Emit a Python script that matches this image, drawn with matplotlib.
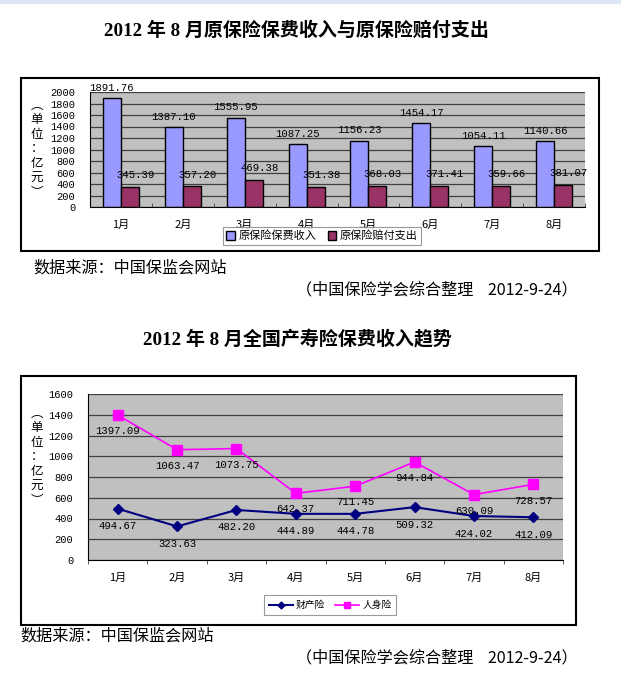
import matplotlib
matplotlib.use("Agg")
import matplotlib.pyplot as plt
import numpy as np
from matplotlib.patches import Rectangle

W, H = 621, 677
CJK = ['Noto Sans CJK SC', 'DejaVu Sans']
SERIF = ['Liberation Serif', 'Noto Sans CJK SC']
MONO = ['Liberation Mono', 'Noto Sans CJK SC']

# data
months = ['1月', '2月', '3月', '4月', '5月', '6月', '7月', '8月']
premium = [1891.76, 1387.10, 1555.95, 1087.25, 1156.23, 1454.17, 1054.11, 1140.66]
claims = [345.39, 357.20, 469.38, 351.38, 368.03, 371.41, 359.66, 381.07]
property_ins = [494.67, 323.63, 482.20, 444.89, 444.78, 509.32, 424.02, 412.09]
life_ins = [1397.09, 1063.47, 1073.75, 642.37, 711.45, 944.84, 630.09, 728.57]

title1 = '2012 年 8 月原保险保费收入与原保险赔付支出'
title2 = '2012 年 8 月全国产寿险保费收入趋势'
source = '数据来源：中国保监会网站'
note = '（中国保险学会综合整理    2012-9-24）'
unit = '︵\n单\n位\n：\n亿\n元\n︶'

fig = plt.figure(figsize=(W / 100, H / 100), dpi=100)


def rect(x0, y0, x1, y1):
    # pixel box (top-left origin) -> figure fraction
    return [x0 / W, 1 - y1 / H, (x1 - x0) / W, (y1 - y0) / H]


def fx(x):
    return x / W


def fy(y):
    return 1 - y / H


# light strip on top
fig.patches.append(Rectangle((0, fy(3)), 1, 3 / H, transform=fig.transFigure,
                             color='#dce6f4', zorder=-5))

# chart frames
for box in [(21, 78, 599, 251), (21, 376, 576, 625)]:
    x0, y0, x1, y1 = box
    fig.patches.append(Rectangle((fx(x0), fy(y1)), fx(x1 - x0), (y1 - y0) / H,
                                 transform=fig.transFigure, facecolor='white',
                                 edgecolor='black', lw=1.5, zorder=-5))

# titles and notes
fig.text(fx(296), fy(31), title1, family=SERIF, weight='bold', fontsize=13.7,
         ha='center', va='center')
fig.text(fx(297), fy(339), title2, family=SERIF, weight='bold', fontsize=13.7,
         ha='center', va='center')
fig.text(fx(33), fy(268), source, family=CJK, fontsize=11.6, ha='left', va='center')
fig.text(fx(578), fy(290), note, family=CJK, fontsize=11.6, ha='right', va='center')
fig.text(fx(20), fy(636), source, family=CJK, fontsize=11.6, ha='left', va='center')
fig.text(fx(578), fy(658), note, family=CJK, fontsize=11.6, ha='right', va='center')


def style_axes(ax, ymax, step):
    ax.set_facecolor('#c0c0c0')
    ax.set_ylim(0, ymax)
    ax.set_xlim(-0.5, len(months) - 0.5)
    ax.set_yticks(np.arange(0, ymax + 1, step))
    ax.yaxis.grid(True, color='#404040', lw=0.9)
    ax.set_axisbelow(True)
    ax.set_xticks(np.arange(len(months)))
    ax.set_xticklabels(months, family=CJK, fontsize=8)
    ax.set_xticks(np.arange(-0.5, len(months)), minor=True)
    ax.tick_params(axis='x', which='major', length=0, pad=9)
    ax.tick_params(axis='y', length=0, pad=10.5, labelsize=7.5)
    for lab in ax.get_yticklabels():
        lab.set_family(MONO)
    for s in ['top', 'right']:
        ax.spines[s].set_visible(False)
    ax.spines['left'].set_color('black')
    ax.spines['bottom'].set_color('black')


# bar chart
ax1 = fig.add_axes(rect(90, 92, 585, 207))
style_axes(ax1, 2000, 200)
ax1.tick_params(axis='x', which='minor', length=3, direction='in', color='#404040')
x = np.arange(len(months))
bw = 0.29
b1 = ax1.bar(x - bw / 2, premium, bw, color='#9999ff', edgecolor='black', lw=1,
             label='原保险保费收入')
b2 = ax1.bar(x + bw / 2, claims, bw, color='#993366', edgecolor='black', lw=1,
             label='原保险赔付支出')
for i in range(len(months)):
    ax1.annotate(f'{premium[i]:.2f}', (x[i] - bw / 2, premium[i]), xytext=(0, 4),
                 textcoords='offset points', ha='center', va='bottom',
                 family=MONO, fontsize=7.7, annotation_clip=False)
    ax1.annotate(f'{claims[i]:.2f}', (x[i] + bw / 2, claims[i]), xytext=(4, 5),
                 textcoords='offset points', ha='center', va='bottom',
                 family=MONO, fontsize=7.7)
leg1 = fig.legend(handles=[b1, b2], loc='center', bbox_to_anchor=(fx(322), fy(236)),
                  ncol=2, frameon=True, fancybox=False, prop={'family': CJK, 'size': 8},
                  handlelength=0.8, handleheight=0.8, handletextpad=0.3,
                  columnspacing=1.0, borderpad=0.3, borderaxespad=0)
leg1.get_frame().set_edgecolor('#808080')
leg1.get_frame().set_linewidth(0.8)
fig.text(fx(37), fy(149), unit, family=CJK, fontsize=9, ha='center', va='center',
         linespacing=1.15)

# line chart
ax2 = fig.add_axes(rect(88, 394, 563, 560))
style_axes(ax2, 1600, 200)
ax2.tick_params(axis='x', which='minor', length=3, direction='out', color='#404040')
l1, = ax2.plot(x, property_ins, color='#000080', lw=1.5, marker='D', ms=5,
               label='财产险')
l2, = ax2.plot(x, life_ins, color='#ff00ff', lw=1.2, marker='s', ms=7,
               label='人身险')
for i in range(len(months)):
    ax2.annotate(f'{property_ins[i]:.2f}', (x[i], property_ins[i]), xytext=(0, -9),
                 textcoords='offset points', ha='center', va='top',
                 family=MONO, fontsize=7.7)
    ax2.annotate(f'{life_ins[i]:.2f}', (x[i], life_ins[i]), xytext=(0, -8),
                 textcoords='offset points', ha='center', va='top',
                 family=MONO, fontsize=7.7)
leg2 = fig.legend(handles=[l1, l2], loc='center', bbox_to_anchor=(fx(330), fy(605)),
                  ncol=2, frameon=True, fancybox=False, prop={'family': CJK, 'size': 7},
                  handlelength=2.5, handletextpad=0.3, columnspacing=1.0,
                  borderpad=0.5, borderaxespad=0, markerscale=0.7)
leg2.get_frame().set_edgecolor('#808080')
leg2.get_frame().set_linewidth(0.8)
fig.text(fx(37), fy(457), unit, family=CJK, fontsize=9, ha='center', va='center',
         linespacing=1.15)

fig.savefig('out.png', dpi=100)
